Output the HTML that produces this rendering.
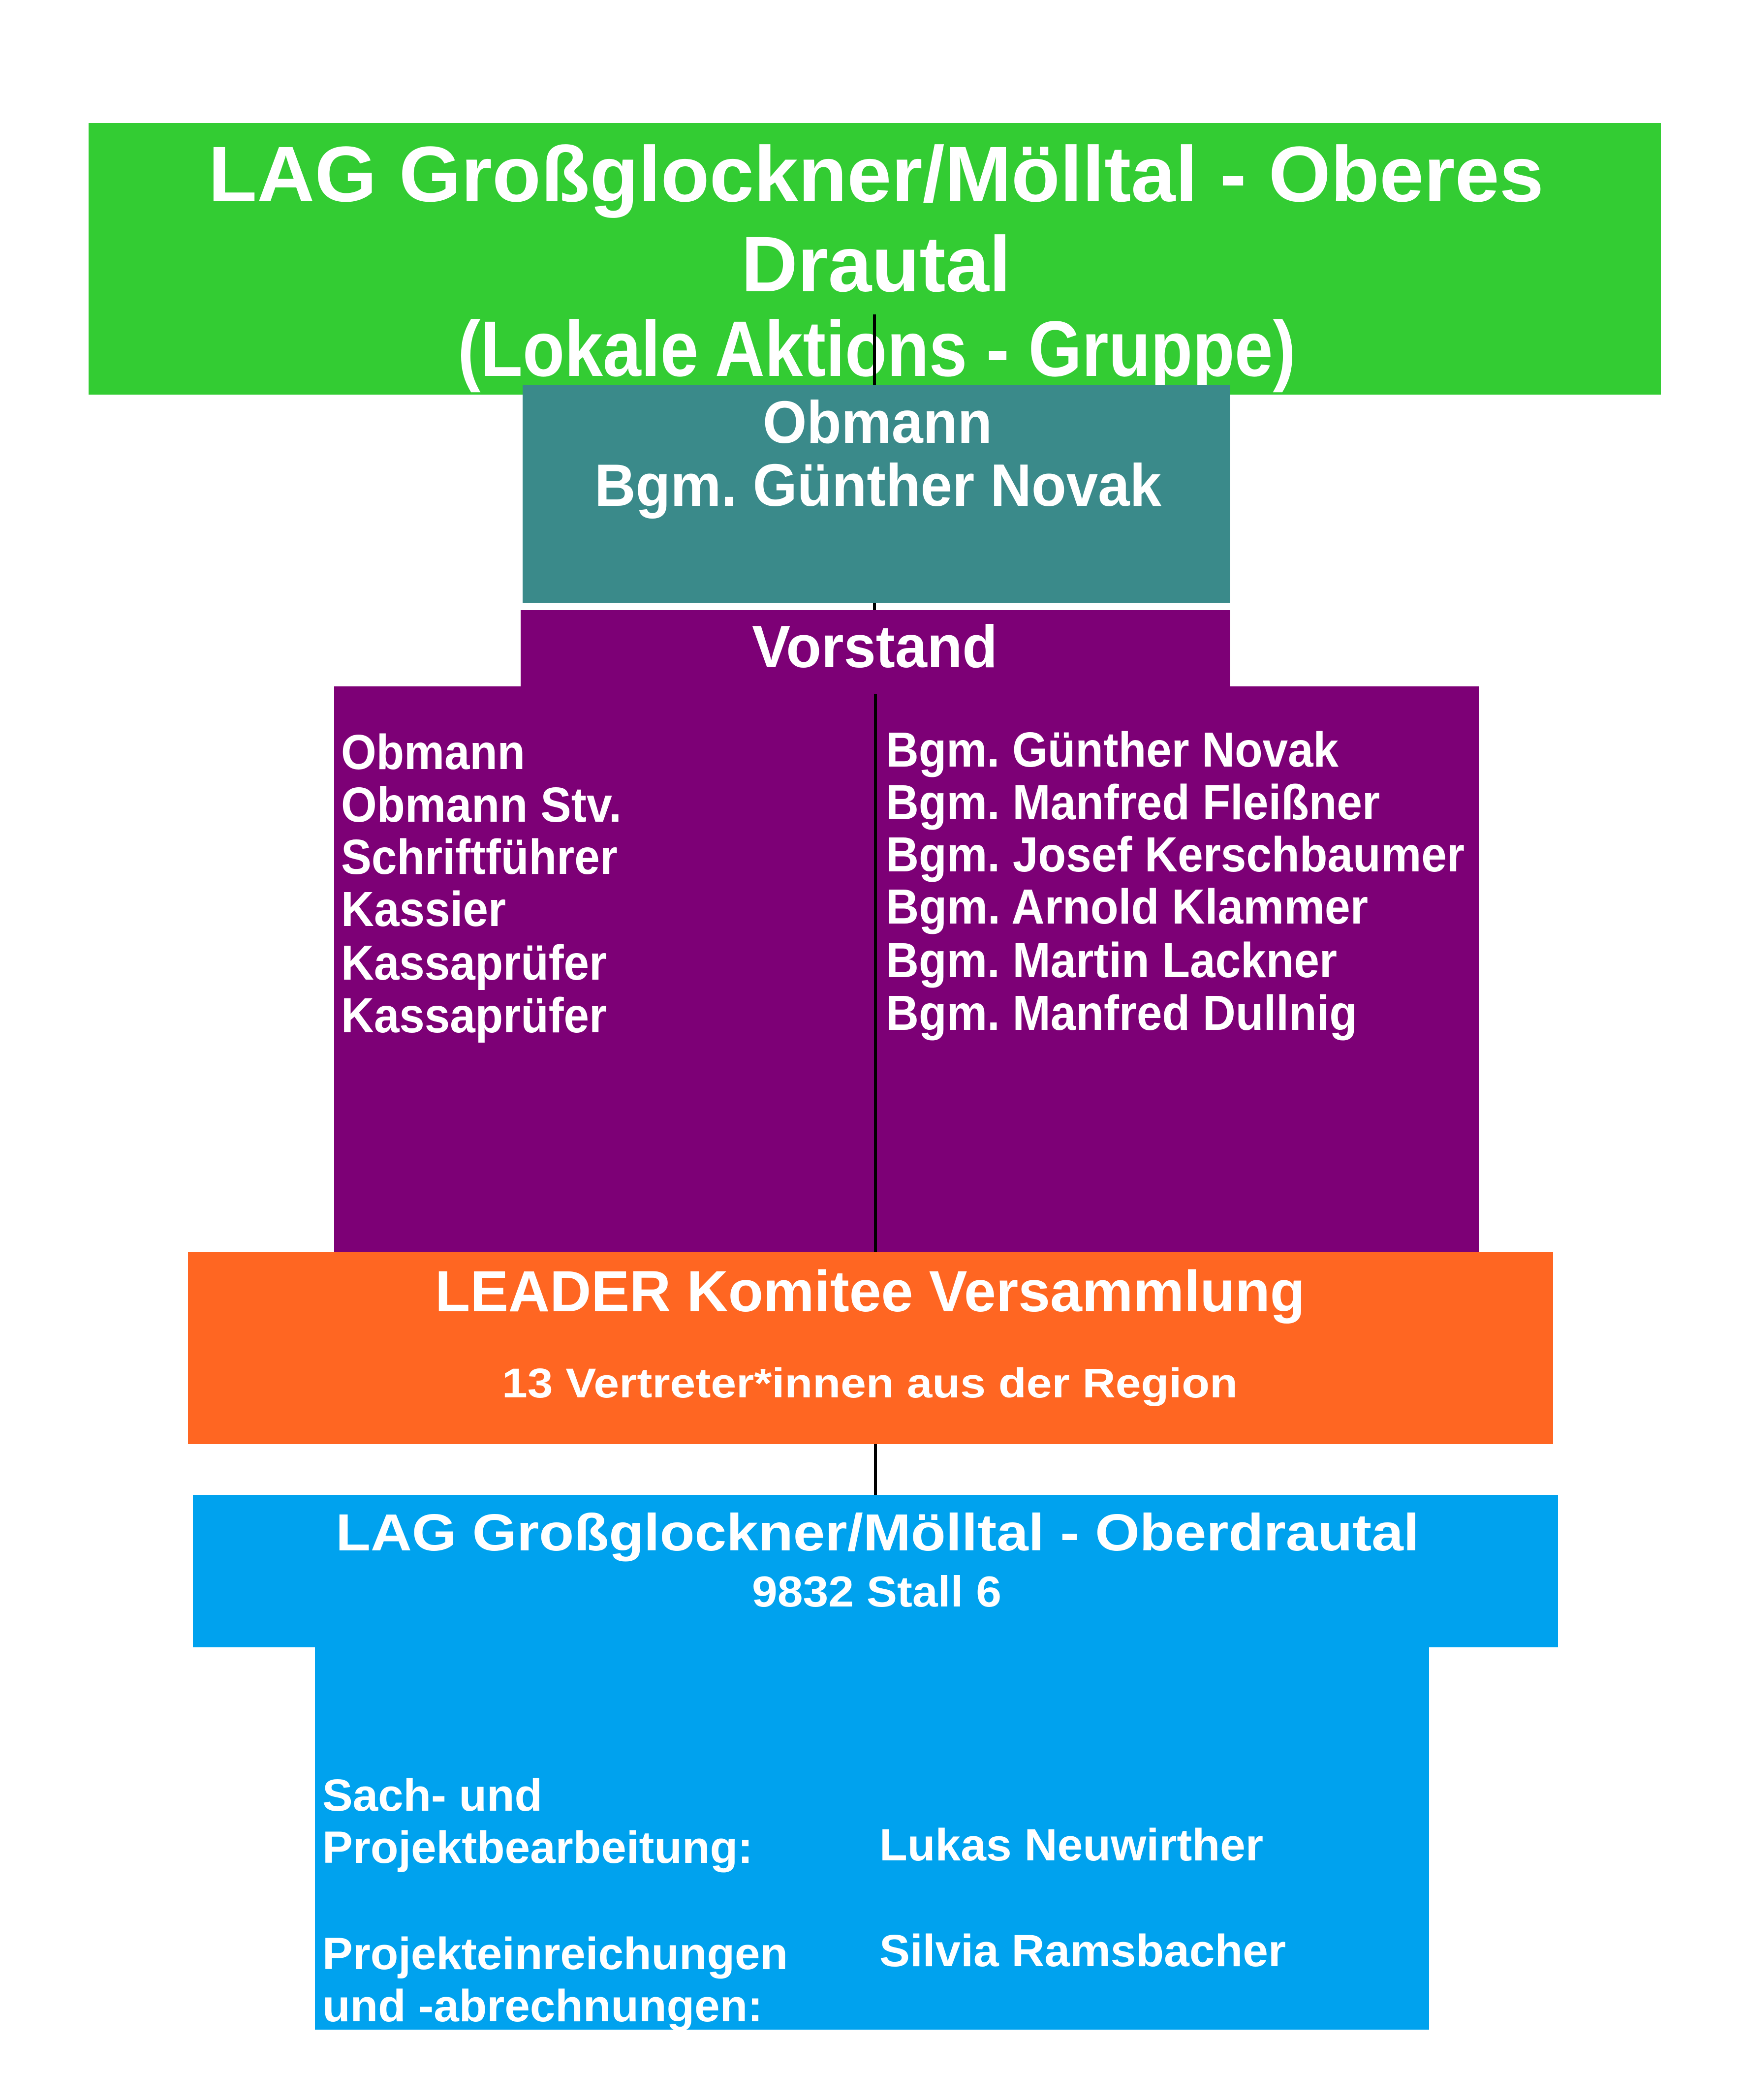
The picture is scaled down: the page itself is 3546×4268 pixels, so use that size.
<!DOCTYPE html>
<html><head><meta charset="utf-8"><style>
html,body{margin:0;padding:0;background:#fff}
svg{display:block}
text{font-family:"Liberation Sans",Arial,sans-serif;font-weight:bold;fill:#fff}
</style></head><body>
<svg width="3546" height="4268" viewBox="0 0 3546 4268" xmlns="http://www.w3.org/2000/svg">
<rect width="3546" height="4268" fill="#fff"/>
<!-- green -->
<rect x="180" y="250" width="3195" height="552" fill="#33cc33"/>
<text x="423" y="409" font-size="160" textLength="2714" lengthAdjust="spacingAndGlyphs">LAG Großglockner/Mölltal - Oberes</text>
<text x="1506" y="592" font-size="160" textLength="548" lengthAdjust="spacingAndGlyphs">Drautal</text>
<text x="930" y="764" font-size="160" textLength="1703" lengthAdjust="spacingAndGlyphs">(Lokale Aktions - Gruppe)</text>
<line x1="1777" y1="639" x2="1777" y2="790" stroke="#000" stroke-width="6"/>
<!-- teal -->
<rect x="1062" y="782" width="1438" height="443" fill="#3a8a8a"/>
<text x="1550" y="900" font-size="122" textLength="466" lengthAdjust="spacingAndGlyphs">Obmann</text>
<text x="1208" y="1028" font-size="122" textLength="1152" lengthAdjust="spacingAndGlyphs">Bgm. Günther Novak</text>
<line x1="1777" y1="1225" x2="1777" y2="1242" stroke="#000" stroke-width="6"/>
<!-- purple -->
<rect x="1058" y="1240" width="1442" height="160" fill="#7d0076"/>
<rect x="679" y="1395" width="2326" height="1153" fill="#7d0076"/>
<text x="1528" y="1356" font-size="122" textLength="499" lengthAdjust="spacingAndGlyphs">Vorstand</text>
<line x1="1779" y1="1410" x2="1779" y2="2548" stroke="#000" stroke-width="6"/>
<g font-size="100">
<text x="693" y="1563" textLength="374" lengthAdjust="spacingAndGlyphs">Obmann</text>
<text x="693" y="1670" textLength="570" lengthAdjust="spacingAndGlyphs">Obmann Stv.</text>
<text x="693" y="1776" textLength="562" lengthAdjust="spacingAndGlyphs">Schriftführer</text>
<text x="693" y="1882" textLength="335" lengthAdjust="spacingAndGlyphs">Kassier</text>
<text x="693" y="1991" textLength="540" lengthAdjust="spacingAndGlyphs">Kassaprüfer</text>
<text x="693" y="2098" textLength="540" lengthAdjust="spacingAndGlyphs">Kassaprüfer</text>
<text x="1800" y="1558" textLength="920" lengthAdjust="spacingAndGlyphs">Bgm. Günther Novak</text>
<text x="1800" y="1665" textLength="1004" lengthAdjust="spacingAndGlyphs">Bgm. Manfred Fleißner</text>
<text x="1800" y="1771" textLength="1176" lengthAdjust="spacingAndGlyphs">Bgm. Josef Kerschbaumer</text>
<text x="1800" y="1877" textLength="980" lengthAdjust="spacingAndGlyphs">Bgm. Arnold Klammer</text>
<text x="1800" y="1986" textLength="917" lengthAdjust="spacingAndGlyphs">Bgm. Martin Lackner</text>
<text x="1800" y="2093" textLength="958" lengthAdjust="spacingAndGlyphs">Bgm. Manfred Dullnig</text>
</g>
<!-- orange -->
<rect x="382" y="2545" width="2774" height="390" fill="#ff6622"/>
<text x="884" y="2665" font-size="118" textLength="1768" lengthAdjust="spacingAndGlyphs">LEADER Komitee Versammlung</text>
<text x="1020" y="2840" font-size="84" textLength="1495" lengthAdjust="spacingAndGlyphs">13 Vertreter*innen aus der Region</text>
<line x1="1779" y1="2935" x2="1779" y2="3040" stroke="#000" stroke-width="6"/>
<!-- blue -->
<rect x="392" y="3038" width="2774" height="310" fill="#00a2ee"/>
<rect x="640" y="3345" width="2264" height="780" fill="#00a2ee"/>
<text x="682" y="3151" font-size="106" textLength="2202" lengthAdjust="spacingAndGlyphs">LAG Großglockner/Mölltal - Oberdrautal</text>
<text x="1528" y="3265" font-size="88" textLength="507" lengthAdjust="spacingAndGlyphs">9832 Stall 6</text>
<g font-size="92">
<text x="655" y="3680" textLength="447" lengthAdjust="spacingAndGlyphs">Sach- und</text>
<text x="655" y="3786" textLength="875" lengthAdjust="spacingAndGlyphs">Projektbearbeitung:</text>
<text x="1787" y="3781" textLength="780" lengthAdjust="spacingAndGlyphs">Lukas Neuwirther</text>
<text x="655" y="4002" textLength="946" lengthAdjust="spacingAndGlyphs">Projekteinreichungen</text>
<text x="655" y="4108" textLength="895" lengthAdjust="spacingAndGlyphs">und -abrechnungen:</text>
<text x="1787" y="3996" textLength="826" lengthAdjust="spacingAndGlyphs">Silvia Ramsbacher</text>
</g>
</svg>
</body></html>
